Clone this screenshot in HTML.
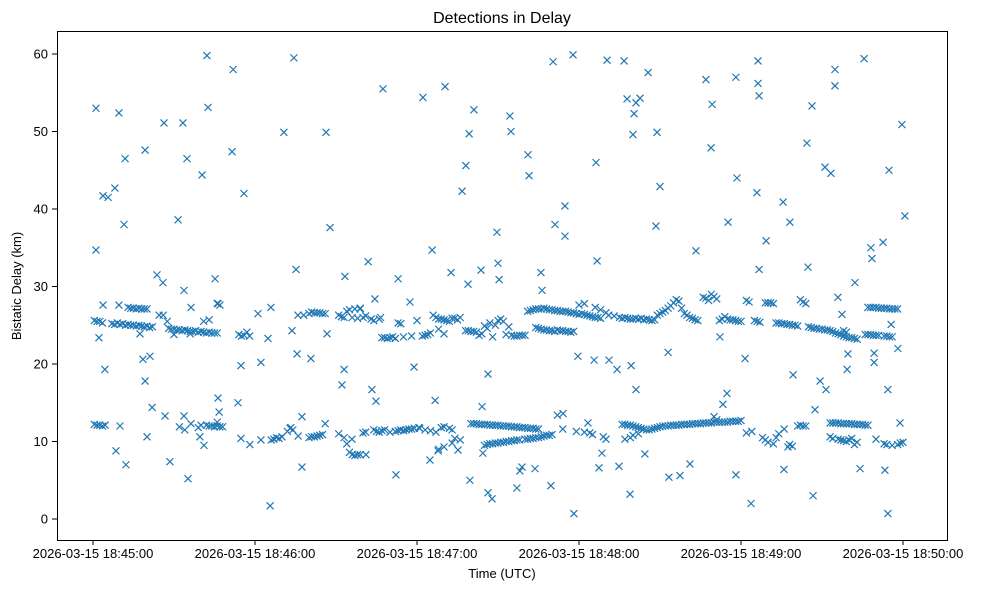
<!DOCTYPE html>
<html><head><meta charset="utf-8"><style>
html,body{margin:0;padding:0;background:#fff;}
svg{display:block;font-family:"Liberation Sans","DejaVu Sans",sans-serif;}
</style></head><body>
<svg id="chart" width="984" height="590" viewBox="0 0 984 590" xmlns="http://www.w3.org/2000/svg">
<rect width="984" height="590" fill="#fff"/>
<text x="502" y="23" text-anchor="middle" font-size="16">Detections in Delay</text>
<text x="502" y="578" text-anchor="middle" font-size="13">Time (UTC)</text>
<text transform="translate(21,286) rotate(-90)" text-anchor="middle" font-size="13">Bistatic Delay (km)</text>
<g id="marks"></g>
<g id="axes"></g>
<rect x="57.5" y="31.5" width="890" height="509" fill="none" stroke="#000" stroke-width="1"/>
</svg>
<script>
const xTickLabels = ["2026-03-15 18:45:00","2026-03-15 18:46:00","2026-03-15 18:47:00","2026-03-15 18:48:00","2026-03-15 18:49:00","2026-03-15 18:50:00"];
const xTickSeconds = [0,60,120,180,240,300];
const yTicks = [0,10,20,30,40,50,60];
const outliers = [[1.1,53],[1.1,34.7],[2.2,23.4],[3.7,41.7],[5.6,41.5],[3.7,27.6],[4.4,19.3],[8.1,42.7],[8.5,8.8],[9.6,52.4],[9.6,27.6],[11.5,38],[11.9,46.5],[12.2,7],[17.4,23.9],[18.5,20.6],[19.3,47.6],[19.3,17.8],[20,10.6],[21.1,21],[21.9,14.4],[23.7,31.5],[25.9,30.5],[26.3,51.1],[26.7,13.3],[28.5,7.4],[31.5,38.6],[33.3,51.1],[33.7,29.5],[33.7,13.3],[34.8,46.5],[35.2,5.2],[36.3,27.3],[36.3,12.3],[39.6,10.6],[40.4,44.4],[41.1,9.5],[42.2,59.8],[42.6,53.1],[45.2,31],[46.3,27.8],[46.3,15.6],[46.7,13.8],[51.5,47.4],[51.9,58],[53.7,15],[54.8,19.8],[55.9,42],[54.8,10.4],[58.1,9.6],[61.1,26.5],[62.2,20.2],[62.2,10.2],[64.8,23.3],[65.6,1.7],[65.9,27.3],[68.9,10.4],[70.7,49.9],[73.3,11.8],[73.7,24.3],[74.4,59.5],[75.2,32.2],[75.9,26.3],[75.6,21.3],[77.4,6.7],[77.4,13.2],[80.7,20.7],[86.3,49.9],[87.8,37.6],[86.7,23.9],[92.2,17.3],[93,19.3],[93.3,31.3],[95.9,10.3],[98.9,27.1],[101.1,8.3],[101.9,33.2],[103.3,16.7],[104.4,28.4],[104.8,15.2],[107.4,55.5],[112.2,5.7],[113,31],[115.9,11.5],[117.4,28],[118.9,19.6],[120.7,11.8],[122.2,54.4],[124.8,7.6],[125.6,34.7],[126.7,15.3],[127.8,8.8],[130.4,55.8],[132.6,31.8],[135.2,8.9],[136.7,42.3],[138.1,45.6],[138.9,30.3],[139.3,49.7],[139.6,5],[141.1,52.8],[143.7,32.1],[144.1,14.5],[144.4,8.5],[146.3,18.7],[146.3,3.4],[147.8,2.6],[149.6,37],[150,33],[150.4,30.9],[154.4,52],[154.8,50],[157,4],[158.1,6.2],[158.9,6.7],[161.1,47],[161.5,44.3],[163.7,6.5],[165.9,31.8],[166.3,29.5],[169.6,4.3],[170.4,59],[171.1,38],[174.1,13.6],[174.8,40.4],[174.8,36.5],[177.8,59.9],[178.1,0.7],[179.6,21],[183.3,12.4],[185.6,20.5],[186.7,33.3],[186.3,46],[187.4,6.6],[188.5,8.5],[190.4,59.2],[191.1,20.5],[194.1,19.3],[194.8,6.8],[196.7,59.1],[197.8,54.2],[198.9,3.2],[199.3,19.8],[200,49.6],[200.4,52.3],[201.1,53.7],[201.1,16.7],[202.6,54.3],[204.4,8.4],[205.6,57.6],[208.5,37.8],[208.9,49.9],[210,42.9],[213,21.5],[213.3,5.4],[217.4,5.6],[221.1,7.1],[223.3,34.6],[227,56.7],[228.9,47.9],[229.3,53.5],[232.2,23.5],[233.3,14.8],[234.8,16.2],[235.2,38.3],[238.1,5.7],[238.1,57],[238.5,44],[241.5,20.7],[243.7,2],[246.3,59.1],[246.3,56.2],[246.7,54.6],[245.9,42.1],[246.7,32.2],[249.3,35.9],[255.6,40.9],[255.9,6.4],[257.4,9.3],[258.1,38.3],[259.3,18.6],[264.4,48.5],[264.8,32.5],[266.3,53.3],[266.7,3],[267.4,14.1],[269.3,17.8],[271.1,45.4],[271.5,16.7],[273.3,44.6],[274.8,58],[274.8,55.9],[275.9,28.6],[277.4,26.4],[279.3,19.3],[279.6,21.3],[282.2,30.5],[284.1,6.5],[285.6,59.4],[288.1,35],[288.5,33.6],[289.3,21.4],[289.3,20.2],[292.6,35.7],[293.3,6.3],[294.4,0.7],[294.4,16.7],[294.8,45],[295.6,25.1],[298.1,22],[298.9,12.4],[299.6,50.9],[300.7,39.1]];
const upperBand = [[0.5,25.6],[1.5,25.5],[2.5,25.5],[3.5,25.3],[7,25.2],[8,25.1],[9,25.3],[10,25.1],[11,25.2],[12,25.0],[13,25.1],[14,25.0],[15,25.0],[16,24.9],[17,25.0],[18,24.9],[19,24.8],[20,24.9],[21,24.7],[22,24.8],[13,27.3],[14,27.2],[15,27.2],[16,27.1],[17,27.2],[18,27.1],[19,27.1],[20,27.1],[24.5,26.3],[26,26.3],[27.5,25.5],[28,24.6],[29,24.5],[30,24.5],[31,24.4],[32,24.4],[33,24.3],[34,24.4],[35,24.3],[36,24.2],[37,24.2],[38,24.3],[39,24.1],[40,24.2],[41,24.1],[42,24.0],[43,24.1],[44,24.0],[45,24.0],[46,24.0],[30,23.8],[36,23.9],[41,25.5],[43,25.7],[46,27.8],[47,27.6],[54,23.8],[55,23.6],[56,23.7],[57,24.1],[58,23.6],[78,26.3],[80,26.5],[81,26.7],[82,26.6],[83,26.6],[84,26.6],[85,26.5],[86,26.5],[91,26.3],[92,26.1],[93,26.0],[94,26.8],[95,27.0],[96,26.0],[97,27.1],[98,25.9],[99,27.2],[100,26.0],[101,26.2],[103,25.8],[104,25.6],[106,25.8],[106.5,26],[107,23.4],[108,23.4],[109,23.3],[110,23.4],[111,23.5],[112,23.3],[113,25.3],[114,25.2],[115,23.5],[118,23.6],[120,25.6],[122,23.6],[123,23.7],[124,23.8],[125,24.0],[126,26.3],[127,26.0],[128,25.8],[129,25.8],[130,25.7],[131,25.6],[132,25.5],[133,25.9],[134,25.9],[135,25.7],[136,26.0],[128,24.5],[130,23.9],[138,24.3],[139,24.3],[140,24.2],[141,24.2],[142,24.1],[143,23.7],[144,23.9],[145,24.9],[146,24.6],[147,25.3],[148,23.5],[149,25.0],[150,25.6],[151,25.8],[152,25.5],[153,23.8],[154,24.8],[155,23.7],[156,23.6],[157,23.6],[158,23.7],[159,23.7],[160,23.7],[161,26.8],[162,26.9],[163,27.0],[164,27.1],[165,27.1],[166,27.1],[167,27.2],[168,27.1],[169,27.0],[170,27.0],[171,26.9],[172,26.9],[173,26.8],[174,26.8],[175,26.8],[176,26.7],[177,26.6],[178,26.6],[179,26.5],[180,26.4],[181,26.5],[182,26.4],[183,26.3],[184,26.2],[185,26.1],[186,26.0],[187,26.0],[188,25.9],[164,24.7],[165,24.6],[166,24.5],[167,24.4],[168,24.4],[169,24.3],[170,24.3],[171,24.2],[172,24.4],[173,24.3],[174,24.3],[175,24.2],[176,24.2],[177,24.1],[178,24.2],[180,27.6],[182,27.8],[186,27.3],[188,27.0],[190,26.6],[191,26.3],[193,26.2],[195,26.0],[196,25.9],[197,26.0],[198,25.9],[199,25.8],[200,25.8],[201,25.9],[202,25.8],[203,25.9],[204,25.7],[205,25.8],[206,25.7],[207,25.6],[208,25.7],[209,26.3],[210,26.5],[211,26.7],[212,26.9],[213,27.2],[214,27.5],[215,27.9],[216,28.3],[217,28.1],[218,27.2],[219,26.5],[220,26.3],[221,26.0],[222,25.9],[223,25.7],[224,25.6],[226,28.6],[227,28.5],[228,28.2],[229,29.0],[230,28.7],[231,28.4],[232,25.6],[233,25.8],[234,26.1],[235,25.8],[236,25.7],[237,25.7],[238,25.6],[239,25.5],[240,25.5],[242,28.2],[243,28.0],[245,25.6],[246,25.5],[247,25.4],[249,27.9],[250,27.9],[251,27.9],[252,27.8],[253,25.3],[254,25.3],[255,25.2],[256,25.2],[257,25.1],[258,25.1],[259,25.0],[260,25.0],[261,24.9],[262,28.3],[263,28.0],[264,27.8],[265,24.8],[266,24.7],[267,24.6],[268,24.6],[269,24.5],[270,24.5],[271,24.4],[272,24.4],[273,24.3],[274,24.2],[275,24.0],[276,23.9],[277,23.8],[278,23.6],[279,23.5],[280,23.4],[281,23.4],[282,23.3],[283,23.2],[278,24.3],[279,24.1],[287,27.3],[288,27.3],[289,27.3],[290,27.3],[291,27.2],[292,27.2],[293,27.2],[294,27.2],[295,27.1],[296,27.1],[297,27.1],[298,27.1],[286,23.8],[287,23.8],[288,23.8],[289,23.7],[290,23.7],[291,23.7],[293,23.6],[294,23.6],[295,23.5],[296,23.5]];
const lowerBand = [[0.5,12.2],[1.5,12.1],[2.5,12.1],[3.5,12.0],[4.5,12.1],[10,12.0],[32,11.9],[34,11.5],[39,11.8],[40,12.1],[42,12.1],[43,12.0],[44,12.0],[45,11.9],[46,12.0],[47,11.9],[48,11.9],[46,12.5],[66,10.2],[67,10.3],[68,10.5],[70,10.6],[72,11.3],[73,11.7],[74,11.5],[76,10.7],[80,10.5],[81,10.6],[82,10.6],[83,10.7],[84,10.8],[85,10.9],[86,12.3],[91,11.0],[93,10.5],[94,9.7],[95,8.6],[96,8.3],[97,8.2],[98,8.3],[99,8.3],[100,11.1],[101,11.2],[104,11.5],[105,11.3],[106,11.2],[107,11.4],[108,11.5],[110,11.2],[112,11.3],[113,11.4],[114,11.5],[115,11.4],[116,11.5],[117,11.6],[118,11.6],[119,11.7],[121,11.7],[123,11.5],[125,11.4],[127,11.2],[129,11.8],[130,11.9],[132,11.7],[133,11.5],[128,9.0],[130,9.3],[133,9.8],[134,10.4],[136,10.2],[140,12.3],[141,12.3],[142,12.3],[143,12.2],[144,12.2],[145,12.2],[146,12.2],[147,12.1],[148,12.1],[149,12.1],[150,12.1],[151,12.0],[152,12.0],[153,12.0],[154,12.0],[155,11.9],[156,11.9],[157,11.9],[158,11.8],[159,11.8],[160,11.8],[161,11.7],[162,11.7],[163,11.7],[164,11.6],[165,11.6],[145,9.5],[146,9.6],[147,9.7],[148,9.7],[149,9.8],[150,9.8],[151,9.9],[152,9.9],[153,10.0],[154,10.0],[155,10.1],[156,10.1],[157,10.2],[158,10.2],[160,10.3],[161,10.3],[162,10.4],[163,10.4],[164,10.5],[165,10.5],[166,10.6],[167,10.7],[168,10.8],[169,10.8],[170,10.9],[172,13.4],[174,11.6],[179,11.3],[182,11.2],[184,11.1],[185,10.9],[189,10.6],[190,10.3],[196,12.2],[197,12.2],[198,12.1],[199,12.1],[200,12.0],[201,11.9],[202,11.8],[203,11.7],[204,11.6],[205,11.5],[206,11.5],[207,11.6],[208,11.7],[209,11.8],[210,11.9],[211,12.0],[212,12.0],[213,12.0],[214,12.1],[215,12.1],[216,12.1],[217,12.1],[218,12.2],[219,12.2],[220,12.2],[221,12.2],[222,12.3],[223,12.3],[224,12.3],[225,12.3],[226,12.4],[227,12.4],[228,12.4],[229,12.4],[230,12.5],[231,12.5],[232,12.5],[233,12.5],[234,12.5],[235,12.5],[236,12.6],[237,12.6],[238,12.6],[239,12.6],[240,12.7],[197,10.3],[199,10.5],[200,10.8],[202,11.0],[230,13.2],[231,12.8],[242,11.1],[244,11.3],[248,10.5],[249,10.2],[250,9.9],[252,9.7],[253,10.5],[254,11.0],[256,11.6],[258,9.6],[259,9.4],[261,12.0],[262,12.1],[263,12.0],[264,12.0],[273,12.4],[274,12.4],[275,12.4],[276,12.4],[277,12.3],[278,12.3],[279,12.3],[280,12.3],[281,12.3],[282,12.2],[283,12.2],[284,12.2],[285,12.2],[286,12.1],[287,12.1],[273,10.6],[274,10.4],[276,10.3],[277,10.2],[278,10.1],[279,10.0],[280,10.2],[281,10.4],[282,9.6],[283,9.9],[290,10.3],[293,9.7],[294,9.6],[296,9.5],[298,9.6],[299,9.8],[300,9.9]];

const NS = "http://www.w3.org/2000/svg";
function xScale(t){ return 93 + t * 2.7; }
function yScale(v){ return 519 - v * 7.75; }

const axes = document.getElementById('axes');
xTickSeconds.forEach((t, i) => {
  const x = xScale(t);
  const tk = document.createElementNS(NS, 'line');
  tk.setAttribute('x1', x); tk.setAttribute('x2', x);
  tk.setAttribute('y1', 540); tk.setAttribute('y2', 545);
  tk.setAttribute('stroke', '#000');
  
  
  axes.appendChild(tk);
  const lb = document.createElementNS(NS, 'text');
  lb.setAttribute('x', x); lb.setAttribute('y', 558);
  lb.setAttribute('text-anchor', 'middle'); lb.setAttribute('font-size', '13');
  lb.textContent = xTickLabels[i];
  
  
  axes.appendChild(lb);
});
yTicks.forEach(v => {
  const y = yScale(v);
  const tk = document.createElementNS(NS, 'line');
  tk.setAttribute('x1', 52); tk.setAttribute('x2', 57);
  tk.setAttribute('y1', y); tk.setAttribute('y2', y);
  tk.setAttribute('stroke', '#000');
  
  
  axes.appendChild(tk);
  const lb = document.createElementNS(NS, 'text');
  lb.setAttribute('x', 48); lb.setAttribute('y', y + 4.5);
  lb.setAttribute('text-anchor', 'end'); lb.setAttribute('font-size', '13');
  lb.textContent = v;
  
  
  axes.appendChild(lb);
});

const marks = document.getElementById('marks');
const allPoints = outliers.concat(upperBand, lowerBand);
allPoints.forEach(p => {
  const x = xScale(p[0]), y = yScale(p[1]), s = 3.5;
  const m = document.createElementNS(NS, 'path');
  m.setAttribute('d', `M${x-s},${y-s}L${x+s},${y+s}M${x-s},${y+s}L${x+s},${y-s}`);
  m.setAttribute('stroke', '#1f77b4');
  m.setAttribute('stroke-width', '1.2');
  m.setAttribute('fill', 'none');
  
  
  marks.appendChild(m);
});
</script>
</body></html>
